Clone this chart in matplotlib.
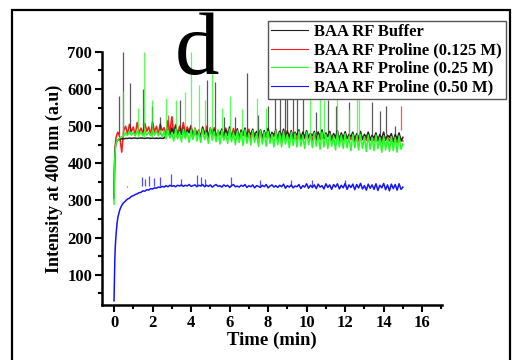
import numpy as np
import matplotlib
matplotlib.use("Agg")
import matplotlib.pyplot as plt
from matplotlib.patches import Rectangle
from matplotlib.ticker import MultipleLocator

plt.rcParams["font.family"] = ["Liberation Serif", "DejaVu Serif"]

# Time points of the fast initial rise (min)
t_rise = [0.0, 0.02, 0.04, 0.07, 0.1, 0.15, 0.2, 0.3, 0.4]

# Rise part for every sample
buffer_rise = [305, 380, 420, 445, 455, 460, 463, 465, 466]
pro125_rise = [310, 370, 420, 450, 468, 478, 484, 470, 430]
pro25_rise = [290, 370, 415, 440, 452, 460, 464, 468, 472]
pro50_rise = [30, 90, 140, 180, 205, 235, 255, 275, 287]

# Plateau part, read every 0.1 min from 0.5 to 15.0 min
buffer_band = [
    466, 467, 467, 468, 467, 468, 468, 467, 468, 468,
    468, 467, 468, 468, 467, 468, 467, 468, 467, 468,
    467, 468, 475, 490, 470, 495, 480, 500, 472, 488,
    478, 495, 470, 490, 482, 500, 468, 492, 476, 485,
    470, 498, 480, 488, 472, 495, 476, 490, 470, 486,
    478, 492, 468, 490, 475, 498, 470, 485, 478, 493,
    466, 488, 475, 495, 470, 484, 478, 492, 468, 486,
    474, 490, 466, 488, 472, 494, 470, 482, 476, 490,
    465, 486, 474, 492, 468, 484, 472, 488, 466, 482,
    476, 490, 464, 484, 470, 488, 468, 480, 474, 486,
    462, 484, 470, 490, 466, 482, 472, 486, 464, 480,
    470, 488, 462, 482, 468, 485, 466, 478, 472, 484,
    460, 480, 468, 486, 464, 478, 470, 484, 462, 476,
    468, 482, 460, 478, 466, 484, 462, 476, 470, 480,
    458, 478, 465, 482, 460, 470,
]
pro125_band = [
    488, 500, 478, 505, 485, 498, 476, 510, 482, 495,
    480, 508, 486, 498, 476, 512, 484, 500, 478, 506,
    488, 496, 475, 515, 482, 525, 480, 505, 476, 500,
    484, 510, 478, 498, 486, 502, 470, 495, 480, 490,
    472, 494, 478, 500, 468, 490, 482, 496, 470, 488,
    476, 492, 466, 495, 480, 488, 470, 494, 474, 486,
    468, 490, 476, 484, 470, 492, 465, 486, 478, 484,
    466, 488, 474, 480, 470, 490, 462, 484, 472, 480,
    470, 486, 464, 482, 474, 488, 466, 480, 470, 484,
    462, 482, 472, 478, 466, 486, 470, 480, 462, 478,
    470, 484, 464, 480, 468, 476, 472, 484, 460, 478,
    466, 480, 470, 476, 462, 482, 468, 474, 464, 478,
    470, 476, 460, 480, 466, 474, 462, 478, 468, 472,
    460, 476, 466, 472, 458, 478, 464, 470, 460, 474,
    462, 470, 456, 476, 465, 460,
]
pro25_band = [
    474, 482, 475, 486, 476, 483, 474, 487, 476, 484,
    474, 488, 476, 484, 474, 488, 476, 486, 474, 488,
    472, 486, 466, 490, 468, 482, 460, 492, 466, 486,
    458, 492, 466, 484, 456, 490, 464, 494, 460, 486,
    456, 492, 464, 482, 454, 494, 462, 486, 458, 490,
    452, 488, 462, 482, 454, 492, 458, 484, 450, 488,
    456, 484, 448, 490, 454, 482, 450, 488, 456, 480,
    446, 488, 452, 484, 446, 486, 454, 478, 444, 488,
    450, 482, 444, 486, 452, 478, 442, 484, 448, 480,
    444, 486, 446, 476, 440, 484, 450, 478, 442, 482,
    446, 476, 438, 484, 444, 478, 440, 480, 446, 474,
    436, 482, 444, 476, 440, 480, 442, 472, 434, 478,
    442, 474, 436, 478, 440, 472, 432, 476, 438, 470,
    434, 476, 440, 470, 430, 474, 436, 468, 432, 472,
    434, 470, 430, 474, 438, 452,
]
pro50_band = [
    294, 299, 304, 306, 311, 313, 316, 318, 321, 322,
    326, 325, 329, 328, 332, 331, 334, 333, 336, 335,
    338, 336, 340, 337, 341, 338, 340, 337, 341, 339,
    342, 338, 341, 339, 343, 338, 340, 342, 337, 341,
    339, 343, 337, 341, 338, 342, 336, 340, 343, 338,
    340, 336, 342, 338, 341, 335, 340, 343, 337, 339,
    336, 341, 338, 343, 335, 340, 337, 342, 334, 340,
    338, 335, 341, 337, 343, 334, 339, 342, 336, 340,
    335, 341, 337, 344, 333, 340, 336, 342, 334, 339,
    337, 343, 332, 340, 336, 345, 333, 341, 335, 342,
    332, 344, 336, 340, 331, 345, 335, 342, 330, 343,
    336, 345, 331, 341, 334, 346, 330, 342, 335, 344,
    329, 343, 334, 346, 331, 340, 328, 344, 333, 342,
    330, 345, 327, 341, 334, 346, 329, 342, 326, 344,
    332, 343, 328, 345, 330, 336,
]

# Narrow spikes: time (min) and peak intensity
buffer_spike_t = [0.26, 0.45, 0.83, 1.52, 1.95, 2.4, 3.43, 4.81, 5.25, 5.7, 6.3, 6.9, 7.5, 8.0,
                  8.36, 8.6, 8.9, 8.98, 9.3, 9.5, 9.8, 10.5, 11.1, 11.5, 12.2, 13.4, 13.8, 14.1, 14.6]
buffer_spike_v = [580, 700, 617, 600, 555, 525, 571, 625, 620, 526, 526, 644, 530, 555,
                  640, 600, 660, 650, 620, 600, 590, 539, 571, 553, 566, 566, 540, 555, 500]
pro125_spike_t = [2.8, 3.0, 14.9]
pro125_spike_v = [530, 528, 553]
pro25_spike_t = [0.45, 1.27, 1.56, 1.98, 2.68, 3.2, 3.69, 4.0, 4.4, 4.7, 5.1, 5.6, 6.0, 6.65,
                 7.4, 7.9, 10.2, 10.7, 10.9, 11.6, 12.2, 12.6, 12.7]
pro25_spike_v = [595, 550, 700, 570, 575, 570, 592, 700, 610, 570, 665, 550, 580, 545,
                 575, 550, 584, 580, 570, 580, 545, 575, 570]
pro50_spike_t = [0.66, 1.45, 1.6, 1.8, 2.1, 2.4, 2.95, 3.5, 4.3, 4.5, 4.7, 6.05, 7.6, 9.2, 10.3, 12.0]
pro50_spike_v = [335, 362, 358, 365, 360, 362, 372, 358, 368, 362, 358, 362, 355, 356, 355, 356]

labels = ["BAA RF Buffer", "BAA RF Proline (0.125 M)",
          "BAA RF Proline (0.25 M)", "BAA RF Proline (0.50 M)"]
colors = ["#222222", "#ff1a1a", "#22ff22", "#1414ff"]


def series(rise, band):
    t_band = 0.5 + 0.1 * np.arange(len(band))
    return np.concatenate([t_rise, t_band]), np.concatenate([rise, band])


fig = plt.figure(figsize=(5.13, 3.6), dpi=100)
ax = fig.add_axes([0.199, 0.153, 0.663, 0.703])

# drawing order: red below, then black, then green on top, blue separate
data = [
    (buffer_rise, buffer_band, buffer_spike_t, buffer_spike_v, 478, 3),
    (pro125_rise, pro125_band, pro125_spike_t, pro125_spike_v, 490, 2),
    (pro25_rise, pro25_band, pro25_spike_t, pro25_spike_v, 472, 4),
    (pro50_rise, pro50_band, pro50_spike_t, pro50_spike_v, 340, 5),
]
handles = []
for (rise, band, st, sv, base, z), c, lab in zip(data, colors, labels):
    t, v = series(rise, band)
    h, = ax.plot(t, v, color=c, lw=1.1, label=lab, zorder=z)
    ax.vlines(st, base, sv, color=c, lw=0.9, alpha=0.75, zorder=z - 0.5)
    handles.append(h)

ax.set_xlim(-0.62, 17.04)
ax.set_ylim(19, 700)
ax.set_xticks(range(0, 17, 2))
ax.set_yticks(range(100, 701, 100))
ax.xaxis.set_minor_locator(MultipleLocator(1))
ax.yaxis.set_minor_locator(MultipleLocator(50))
ax.tick_params(which="major", direction="out", length=5, width=1.5, labelsize=12, pad=2)
ax.tick_params(which="minor", direction="out", length=3, width=1.5)
for lbl in ax.get_xticklabels() + ax.get_yticklabels():
    lbl.set_fontweight("bold")
for s in ["top", "right"]:
    ax.spines[s].set_visible(False)
for s in ["left", "bottom"]:
    ax.spines[s].set_linewidth(1.8)

ax.set_xlabel("Time (min)", fontsize=13.5, fontweight="bold", labelpad=1)
ax.set_ylabel("Intensity at 400 nm (a.u)", fontsize=13, fontweight="bold", labelpad=3)

fig.text(0.384, 0.795, "d", fontsize=64, ha="center", va="baseline")

leg = fig.legend(handles=handles, loc="upper left", bbox_to_anchor=(0.522, 0.943),
                 prop={"weight": "bold", "size": 12}, frameon=True,
                 fancybox=False, edgecolor="#555555", framealpha=1,
                 handlelength=2.2, handletextpad=0.4, labelspacing=0.15,
                 borderpad=0.2, borderaxespad=0)
leg.get_frame().set_linewidth(1.0)
for line in leg.get_lines():
    line.set_linewidth(0.8)
leg.set_zorder(10)

fig.patches.append(Rectangle((0.023, -0.1), 0.971, 1.072, transform=fig.transFigure,
                             fill=False, edgecolor="black", lw=1.6))

fig.savefig("out.png", dpi=100)
